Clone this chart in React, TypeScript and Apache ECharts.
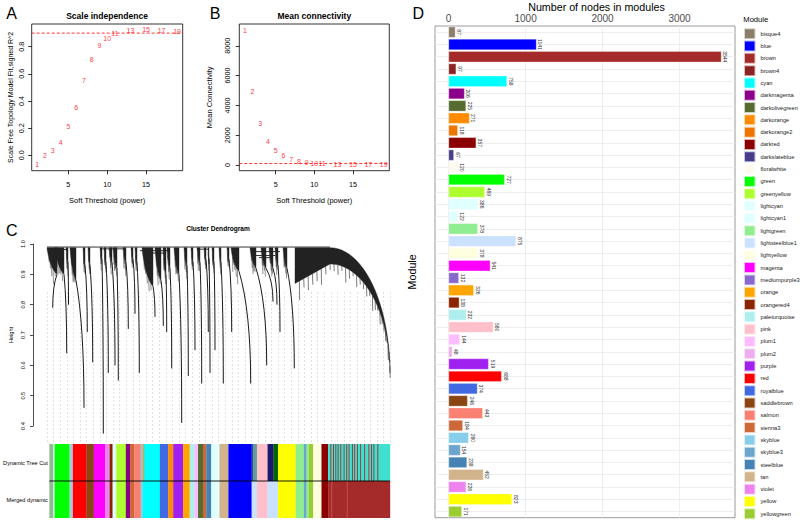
import React, { useEffect, useRef } from 'react';
import * as echarts from 'echarts';

const FONT = '"Liberation Sans", Arial, Helvetica, sans-serif';

// ---------- Panel A / B : soft threshold analysis ----------
const powers = [1, 2, 3, 4, 5, 6, 7, 8, 9, 10, 11, 13, 15, 17, 19];
const signedR2 = [-0.069, -0.003, 0.034, 0.098, 0.216, 0.354, 0.55, 0.705, 0.81, 0.859, 0.894, 0.918, 0.923, 0.92, 0.913];
const meanConnectivity = [9010, 4900, 2770, 1610, 1000, 620, 400, 270, 155, 130, 110, 67, 45, 40, 35];
const r2Cutoff = 0.9;
const connectivityCutoff = 100;
const powerTicks = [5, 10, 15];
const r2Ticks = [0, 0.2, 0.4, 0.6, 0.8];
const connectivityTicks = [0, 2000, 4000, 6000, 8000];

// ---------- Panel C : dendrogram (leaf order position, height) ----------
const treeRootHeight = 0.988;
// [left leaf, right leaf, height]
const dendroMerges = [
  [0, 283, 0.99],
  [0, 20, 0.982],
  [53, 78, 0.984],
  [93, 123, 0.978],
  [100, 118, 0.97],
  [150, 162, 0.983],
  [206, 233, 0.975],
  [208, 228, 0.962],
  [212, 224, 0.955],
];
// [body left, body right, body bottom height, tip leaf, tip height]
const dendroWhips = [
  [0, 10, 0.9, 5.7, 0.79],
  [8, 17, 0.9, 19.7, 0.64],
  [19, 21, 0.94, 21.5, 0.8],
  [23, 29, 0.88, 37, 0.46],
  [36, 38, 0.93, 40.3, 0.71],
  [41, 43, 0.93, 45.7, 0.61],
  [53, 55, 0.95, 56.3, 0.375],
  [57, 59, 0.94, 61.3, 0.575],
  [62, 65, 0.94, 68, 0.6],
  [66, 70, 0.92, 71.3, 0.55],
  [76, 79, 0.94, 81.3, 0.72],
  [84, 86, 0.95, 88, 0.77],
  [88, 90, 0.94, 92.3, 0.575],
  [95, 106, 0.86, 108, 0.76],
  [108, 114, 0.88, 116.3, 0.73],
  [116, 119, 0.9, 119.7, 0.71],
  [120, 123, 0.92, 124.7, 0.59],
  [127, 132, 0.9, 134.7, 0.41],
  [137, 140, 0.93, 141.3, 0.565],
  [144, 146, 0.94, 148, 0.65],
  [150, 153, 0.94, 154.7, 0.54],
  [157, 159, 0.95, 161.3, 0.71],
  [161, 162, 0.95, 163, 0.575],
  [165, 167, 0.94, 168, 0.65],
  [172, 174, 0.94, 176.3, 0.54],
  [180, 182, 0.95, 184.7, 0.71],
  [184, 192, 0.91, 203.7, 0.54],
  [203, 209, 0.92, 219.7, 0.6],
  [214, 219, 0.92, 226, 0.81],
  [222, 226, 0.92, 230, 0.8],
  [228, 231, 0.93, 233, 0.71],
  [236, 240, 0.92, 247.3, 0.59],
];
// [left leaf, shoulder leaf, inner height, tip leaf, tip height]
const dendroFans = [[248, 283, 0.87, 343, 0.575]];

const colorRowLabels = ['Dynamic Tree Cut', 'Merged dynamic'];
// [start leaf, end leaf, module colour]
const turquoiseBrownStripes = [283, 285.7, 288, 290.3, 293, 296.3, 299, 301.3, 304.7, 307, 309.7, 313, 317, 321.3, 324, 326.3, 330.3];
const dynamicTreeCut: [number, number, string][] = [
  [0, 4, 'darkseagreen'], [4, 5.3, 'lightcyan1'], [5.3, 20.3, 'green'], [20.3, 23.7, 'lightsteelblue'],
  [23.7, 37.3, 'red'], [37.3, 44.7, 'saddlebrown'], [44.7, 56.3, 'magenta'], [56.3, 60.7, 'violet'],
  [60.7, 63.7, 'orangered4'], [63.7, 67.3, 'lightcyan'], [67.3, 77, 'greenyellow'], [77, 81.3, 'darkmagenta'],
  [81.3, 85.3, 'sienna3'], [85.3, 92, 'salmon'], [92, 94, 'skyblue'], [94, 95, 'darkorange'],
  [95, 96.3, 'turquoise'], [96.3, 111.3, 'cyan'], [111.3, 119.7, 'royalblue'], [119.7, 124.7, 'darkorange'],
  [124.7, 134.7, 'purple'], [134.7, 141.3, 'orange'], [141.3, 146.3, 'paleturquoise'], [146.3, 149.7, 'plum1'],
  [149.7, 154.7, 'darkolivegreen'], [154.7, 158, 'sienna3'], [158, 163, 'steelblue'], [163, 171.3, 'lightcyan'],
  [171.3, 180.3, 'tan'], [180.3, 203.7, 'blue'], [203.7, 205, 'darkslateblue'], [205, 209, 'cadetblue'],
  [209, 219.7, 'pink'], [219.7, 225.7, 'midnightblue'], [225.7, 230.3, 'darkgreen'], [230.3, 248, 'yellow'],
  [248, 256.3, 'lightgreen'], [256.3, 259, 'skyblue3'], [259, 261.3, 'lightgreen'], [261.3, 265.7, 'yellowgreen'],
  [265.7, 274, 'lightyellow'], [274, 280.7, 'darkred'], [280.7, 343, 'turquoise'],
  ...turquoiseBrownStripes.map((u) => [u, u + 0.7, 'brown'] as [number, number, string]),
];
const mergedDynamic: [number, number, string][] = [
  [0, 4, 'darkseagreen'], [4, 5.3, 'lightcyan1'], [5.3, 20.3, 'green'], [20.3, 23.7, 'lightsteelblue'],
  [23.7, 37.3, 'red'], [37.3, 44.7, 'saddlebrown'], [44.7, 56.3, 'magenta'], [56.3, 60.7, 'violet'],
  [60.7, 63.7, 'orangered4'], [63.7, 67.3, 'lightcyan'], [67.3, 77, 'greenyellow'], [77, 81.3, 'darkmagenta'],
  [81.3, 85.3, 'sienna3'], [85.3, 92, 'salmon'], [92, 94, 'skyblue'], [94, 111.3, 'cyan'],
  [111.3, 119.7, 'royalblue'], [119.7, 124.7, 'darkorange'], [124.7, 134.7, 'purple'], [134.7, 141.3, 'orange'],
  [141.3, 146.3, 'paleturquoise'], [146.3, 149.7, 'plum1'], [149.7, 154.7, 'darkolivegreen'], [154.7, 158, 'sienna3'],
  [158, 163, 'steelblue'], [163, 171.3, 'lightcyan'], [171.3, 180.3, 'tan'], [180.3, 203.7, 'blue'],
  [203.7, 209, 'lightsteelblue1'], [209, 219.7, 'pink'], [219.7, 230.3, 'lightsteelblue1'], [230.3, 248, 'yellow'],
  [248, 256.3, 'lightgreen'], [256.3, 259, 'skyblue3'], [259, 261.3, 'lightgreen'], [261.3, 265.7, 'yellowgreen'],
  [265.7, 274, 'lightyellow'], [274, 280.7, 'darkred'], [280.7, 343, 'brown'],
  [284, 284.6, 'indianred'], [299.5, 300.1, 'indianred'],
];

// ---------- Panel D : module sizes ----------
const moduleNames = ['bisque4', 'blue', 'brown', 'brown4', 'cyan', 'darkmagenta', 'darkolivegreen', 'darkorange', 'darkorange2', 'darkred',
  'darkslateblue', 'floralwhite', 'green', 'greenyellow', 'lightcyan', 'lightcyan1', 'lightgreen', 'lightsteelblue1', 'lightyellow', 'magenta',
  'mediumpurple3', 'orange', 'orangered4', 'paleturquoise', 'pink', 'plum1', 'plum2', 'purple', 'red', 'royalblue',
  'saddlebrown', 'salmon', 'sienna3', 'skyblue', 'skyblue3', 'steelblue', 'tan', 'violet', 'yellow', 'yellowgreen'];
const moduleSizes = [87, 1141, 3544, 97, 758, 206, 225, 271, 118, 357,
  67, 120, 727, 469, 386, 122, 378, 875, 378, 541,
  132, 326, 138, 232, 580, 144, 48, 519, 688, 374,
  246, 443, 184, 260, 154, 238, 452, 226, 823, 171];
const moduleTicks = [0, 1000, 2000, 3000];

const rColors: Record<string, string> = {
  bisque4: '#8B7D6B', blue: '#0000FF', brown: '#A52A2A', brown4: '#8B2323', cyan: '#00FFFF', darkmagenta: '#8B008B',
  darkolivegreen: '#556B2F', darkorange: '#FF8C00', darkorange2: '#EE7600', darkred: '#8B0000', darkslateblue: '#483D8B',
  floralwhite: '#FFFAF0', green: '#00FF00', greenyellow: '#ADFF2F', lightcyan: '#E0FFFF', lightcyan1: '#E0FFFF',
  lightgreen: '#90EE90', lightsteelblue1: '#CAE1FF', lightyellow: '#FFFFE0', magenta: '#FF00FF', mediumpurple3: '#8968CD',
  orange: '#FFA500', orangered4: '#8B2500', paleturquoise: '#AFEEEE', pink: '#FFC0CB', plum1: '#FFBBFF', plum2: '#EEAEEE',
  purple: '#A020F0', red: '#FF0000', royalblue: '#4169E1', saddlebrown: '#8B4513', salmon: '#FA8072', sienna3: '#CD6839',
  skyblue: '#87CEEB', skyblue3: '#6CA6CD', steelblue: '#4682B4', tan: '#D2B48C', violet: '#EE82EE', yellow: '#FFFF00',
  yellowgreen: '#9ACD32', darkseagreen: '#8FBC8F', lightsteelblue: '#B0C4DE', turquoise: '#40E0D0', midnightblue: '#191970',
  darkgreen: '#006400', cadetblue: '#5F9EA0', indianred: '#CD5C5C',
};

const HAIR_LENGTHS = [6, 12, 4, 9, 15, 5, 10, 7];

function quadPts(p0: number[], c: number[], p1: number[], n: number): number[][] {
  const pts: number[][] = [];
  for (let i = 0; i <= n; i++) {
    const t = i / n;
    const u = 1 - t;
    pts.push([u * u * p0[0] + 2 * u * t * c[0] + t * t * p1[0], u * u * p0[1] + 2 * u * t * c[1] + t * t * p1[1]]);
  }
  return pts;
}

const colorSegments = [
  ...dynamicTreeCut.map((s) => ({ seg: s, row: 0 })),
  ...mergedDynamic.map((s) => ({ seg: s, row: 1 })),
];

function buildOption(): any {
  const tickStyle = { color: '#000', width: 0.8 };
  const txt = (text: string, x: number, y: number, font: string, align = 'center') => ({
    type: 'text', x, y, silent: true,
    style: { text, fill: '#000', font, align, verticalAlign: 'middle' },
  });

  const scatterSeries = (xi: number, values: number[]) => ({
    type: 'scatter', xAxisIndex: xi, yAxisIndex: xi, silent: true, z: 3,
    symbolSize: 1, itemStyle: { color: 'rgba(0,0,0,0)' },
    data: powers.map((p, i) => [p, values[i]]),
    label: {
      show: true, position: 'inside', color: '#FF0000', fontSize: 7, fontFamily: FONT,
      formatter: (p: any) => String(powers[p.dataIndex]),
    },
    labelLayout: { hideOverlap: false },
  });

  // horizontal red dashed cut-off line across the whole plot region
  const cutoffSeries = (xi: number, cutoff: number) => ({
    type: 'custom', xAxisIndex: xi, yAxisIndex: xi, silent: true, z: 2,
    encode: { y: 0 },
    data: [[cutoff]],
    renderItem: (params: any, api: any) => {
      const y = api.coord([powers[0], api.value(0)])[1];
      const cs = params.coordSys;
      return {
        type: 'line',
        shape: { x1: cs.x, y1: y, x2: cs.x + cs.width, y2: y },
        style: { stroke: '#FF0000', lineWidth: 0.8, lineDash: [3, 2], fill: 'none' },
      };
    },
  });

  const barSeries = moduleNames.map((name, k) => ({
    type: 'bar', name, xAxisIndex: 5, yAxisIndex: 5, stack: 'modules', barWidth: '88%', silent: true,
    itemStyle: { color: rColors[name], borderColor: 'rgba(255,255,255,0.7)', borderWidth: 0.4 },
    label: {
      show: true, position: 'right', rotate: -90, align: 'center', verticalAlign: 'bottom', distance: 1.5,
      fontSize: 5, color: '#333', fontFamily: FONT, formatter: '{c}',
    },
    data: moduleNames.map((_, i) => (i === k ? moduleSizes[k] : '-')),
  }));

  return {
    animation: false,
    backgroundColor: '#fff',
    textStyle: { fontFamily: FONT },
    grid: [
      { left: 31.7, top: 24, width: 151, height: 146.7, show: true, borderColor: '#000', borderWidth: 0.8, backgroundColor: 'transparent' },
      { left: 239.3, top: 24, width: 150, height: 146.7, show: true, borderColor: '#000', borderWidth: 0.8, backgroundColor: 'transparent' },
      { left: 33, top: 244, width: 371, height: 182 },
      { left: 47, top: 292, width: 343, height: 152 },
      { left: 47, top: 444, width: 343, height: 74 },
      { left: 435, top: 26, width: 300, height: 491.7, show: true, borderColor: '#9a9a9a', borderWidth: 1, backgroundColor: 'transparent' },
    ],
    xAxis: [0, 1].map((g) => ({
      gridIndex: g, type: 'value', min: 0.28, max: 19.72,
      name: 'Soft Threshold (power)', nameLocation: 'middle', nameGap: 26,
      nameTextStyle: { fontSize: 7.5, color: '#000', fontFamily: FONT },
      axisLine: { show: false, onZero: false }, splitLine: { show: false },
      axisTick: { customValues: powerTicks, length: 3.5, lineStyle: tickStyle },
      axisLabel: { customValues: powerTicks, fontSize: 7.2, color: '#000', margin: 10 },
    })).concat([
      { gridIndex: 2, type: 'value', min: -14, max: 357, show: false, axisLine: { onZero: false } } as any,
      {
        gridIndex: 3, type: 'value', min: 0, max: 343, interval: 6.6,
        axisLine: { show: false, onZero: false }, axisTick: { show: false }, axisLabel: { show: false },
        splitLine: { show: true, lineStyle: { color: '#cfcfcf', type: [2, 2], width: 0.6 } },
      },
      { gridIndex: 4, type: 'value', min: 0, max: 343, show: false, axisLine: { onZero: false } },
      {
        gridIndex: 5, type: 'value', position: 'top', min: -177, max: 3721, splitNumber: 8,
        axisLine: { show: false, onZero: false },
        axisTick: { customValues: moduleTicks, length: 3, lineStyle: { color: '#333', width: 0.8 } },
        axisLabel: { customValues: moduleTicks, fontSize: 10, color: '#4d4d4d', margin: 3, formatter: (v: number) => String(v) },
        splitLine: { show: true, lineStyle: { color: '#ebebeb', width: 0.8 } },
      },
    ]),
    yAxis: [
      {
        gridIndex: 0, type: 'value', min: -0.113, max: 0.967,
        name: 'Scale Free Topology Model Fit,signed R^2', nameLocation: 'middle', nameGap: 17.5,
        nameTextStyle: { fontSize: 7, color: '#000', fontFamily: FONT },
        axisLine: { show: false, onZero: false }, splitLine: { show: false },
        axisTick: { customValues: r2Ticks, length: 3.5, lineStyle: tickStyle },
        axisLabel: { customValues: r2Ticks, rotate: 90, fontSize: 7.2, color: '#000', margin: 6.5, formatter: (v: number) => v.toFixed(1) },
      },
      {
        gridIndex: 1, type: 'value', min: -380, max: 9460,
        name: 'Mean Connectivity', nameLocation: 'middle', nameGap: 26,
        nameTextStyle: { fontSize: 7.5, color: '#000', fontFamily: FONT },
        axisLine: { show: false, onZero: false }, splitLine: { show: false },
        axisTick: { customValues: connectivityTicks, length: 3.5, lineStyle: tickStyle },
        axisLabel: { customValues: connectivityTicks, rotate: 90, fontSize: 7.2, color: '#000', margin: 8, formatter: (v: number) => String(v) },
      },
      {
        gridIndex: 2, type: 'value', min: 0.4, max: 1.0, interval: 0.1,
        name: 'Height', nameLocation: 'middle', nameGap: 19,
        nameTextStyle: { fontSize: 5.6, color: '#000', fontFamily: FONT },
        axisLine: { show: true, onZero: false, lineStyle: { color: '#000', width: 0.7 } },
        axisTick: { show: true, length: 3, lineStyle: { color: '#000', width: 0.7 } },
        axisLabel: { rotate: 90, fontSize: 5.6, color: '#000', margin: 7, formatter: (v: number) => v.toFixed(1) },
        splitLine: { show: false },
      },
      { gridIndex: 3, type: 'value', min: 0, max: 1, show: false, axisLine: { onZero: false } },
      {
        gridIndex: 4, type: 'category', data: colorRowLabels, inverse: true,
        axisLine: { show: false, onZero: false }, axisTick: { show: false }, splitLine: { show: false },
        axisLabel: { fontSize: 5.6, color: '#000', margin: 1.5, interval: 0 },
      },
      {
        gridIndex: 5, type: 'category', data: moduleNames, inverse: true,
        name: 'Module', nameLocation: 'middle', nameGap: 18,
        nameTextStyle: { fontSize: 10.7, color: '#000', fontFamily: FONT },
        axisLine: { show: false, onZero: false },
        axisTick: { alignWithLabel: true, interval: 0, length: 3, lineStyle: { color: '#333', width: 0.8 } },
        axisLabel: { show: false, interval: 0 },
        splitLine: { show: true, alignWithLabel: true, interval: 0, lineStyle: { color: '#ebebeb', width: 0.8 } },
      },
    ],
    legend: {
      data: moduleNames, orient: 'vertical', left: 743, top: 27.2, height: 600, padding: 0,
      itemWidth: 11.5, itemHeight: 11, itemGap: -0.69, icon: 'rect', selectedMode: false,
      textStyle: { fontSize: 5.7, color: '#222', fontFamily: FONT, lineHeight: 11 },
    },
    graphic: [
      txt('A', 11.7, 13.5, `16px ${FONT}`),
      txt('B', 215, 13.5, `16px ${FONT}`),
      txt('C', 11.7, 230, `16px ${FONT}`),
      txt('D', 418.3, 13.5, `16px ${FONT}`),
      txt('Scale independence', 107, 16, `bold 8.5px ${FONT}`),
      txt('Mean connectivity', 314.3, 16, `bold 8.5px ${FONT}`),
      txt('Cluster Dendrogram', 218, 228, `bold 6.6px ${FONT}`),
      txt('Number of nodes in modules', 596.5, 6.5, `10.7px ${FONT}`),
      txt('Module', 743.3, 19, `7.6px ${FONT}`, 'left'),
    ],
    series: [
      cutoffSeries(0, r2Cutoff),
      cutoffSeries(1, connectivityCutoff),
      scatterSeries(0, signedR2),
      scatterSeries(1, meanConnectivity),
      {
        type: 'custom', xAxisIndex: 2, yAxisIndex: 2, silent: true, clip: false,
        encode: { x: [0, 1], y: 2 },
        data: dendroMerges,
        renderItem: (params: any, api: any) => {
          const m = dendroMerges[params.dataIndex];
          const a = api.coord([m[0], m[2]]);
          const b = api.coord([m[1], m[2]]);
          return { type: 'line', shape: { x1: a[0], y1: a[1], x2: b[0], y2: b[1] }, style: { stroke: '#000', lineWidth: 0.8, fill: 'none' } };
        },
      },
      {
        type: 'custom', xAxisIndex: 2, yAxisIndex: 2, silent: true, clip: false,
        encode: { x: [0, 1, 3], y: [2, 4] },
        data: dendroWhips,
        renderItem: (params: any, api: any) => {
          const [x0, x1, hb, xt, ht] = dendroWhips[params.dataIndex];
          const tl = api.coord([x0, treeRootHeight]);
          const tr = api.coord([x1, treeRootHeight]);
          const b = api.coord([x1, hb]);
          const c = api.coord([x0, hb]);
          const ctrl = [(c[0] + (tl[0] + b[0]) / 2) / 2, (c[1] + (tl[1] + b[1]) / 2) / 2];
          const tip = api.coord([xt, ht]);
          const mid = api.coord([xt, hb - (hb - ht) * 0.35]);
          const curve = quadPts(b, ctrl, tl, 14);
          const children: any[] = [
            { type: 'polygon', shape: { points: [tl, tr, ...curve] }, style: { fill: '#222', stroke: '#222', lineWidth: 0.4 } },
            { type: 'bezierCurve', shape: { x1: b[0], y1: b[1], x2: tip[0], y2: tip[1], cpx1: mid[0], cpy1: mid[1] }, style: { stroke: '#000', lineWidth: 0.9, fill: 'none' } },
          ];
          for (let i = 2; i < 12; i += 2) {
            const p = curve[i];
            const len = HAIR_LENGTHS[(params.dataIndex + i) % HAIR_LENGTHS.length];
            children.push({ type: 'line', shape: { x1: p[0], y1: p[1], x2: p[0] + 0.4, y2: p[1] + len }, style: { stroke: '#222', lineWidth: 0.5, fill: 'none' } });
          }
          return { type: 'group', children };
        },
      },
      {
        type: 'custom', xAxisIndex: 2, yAxisIndex: 2, silent: true, clip: false,
        encode: { x: [0, 1, 3], y: [2, 4] },
        data: dendroFans,
        renderItem: (params: any, api: any) => {
          const [x0, xe, hi, xt, ht] = dendroFans[params.dataIndex];
          const rx = xt - xe;
          const ry = treeRootHeight - ht;
          const n = 24;
          const outer: number[][] = [api.coord([x0, treeRootHeight])];
          for (let i = 0; i <= n; i++) {
            const th = (i / n) * Math.PI / 2;
            outer.push(api.coord([xe + rx * Math.sin(th), ht + ry * Math.cos(th)]));
          }
          const inner: number[][] = [];
          for (let i = n; i >= 0; i--) {
            const th = (i / n) * Math.PI / 2;
            inner.push(api.coord([xe + rx * Math.sin(th), ht + ry * 0.87 * Math.cos(th)]));
          }
          inner.push(api.coord([x0, hi]));
          const children: any[] = [
            { type: 'polygon', shape: { points: [...outer, ...inner] }, style: { fill: '#222', stroke: '#222', lineWidth: 0.4 } },
          ];
          for (let i = 1; i < inner.length - 1; i++) {
            const p = inner[i];
            const len = HAIR_LENGTHS[i % HAIR_LENGTHS.length];
            children.push({ type: 'line', shape: { x1: p[0], y1: p[1], x2: p[0] + 0.3, y2: p[1] + len }, style: { stroke: '#222', lineWidth: 0.6, fill: 'none' } });
          }
          const a = api.coord([x0, hi]);
          const b = inner[inner.length - 2];
          for (let k = 1; k < 8; k++) {
            const x = a[0] + ((b[0] - a[0]) * k) / 8;
            const y = a[1] + ((b[1] - a[1]) * k) / 8;
            const len = HAIR_LENGTHS[(k + 3) % HAIR_LENGTHS.length] + 4;
            children.push({ type: 'line', shape: { x1: x, y1: y, x2: x + 0.3, y2: y + len }, style: { stroke: '#222', lineWidth: 0.6, fill: 'none' } });
          }
          return { type: 'group', children };
        },
      },
      {
        type: 'custom', xAxisIndex: 4, yAxisIndex: 4, silent: true, clip: false,
        encode: { x: [0, 1], y: 2 },
        data: colorSegments.map((d) => [d.seg[0], d.seg[1], d.row]),
        renderItem: (params: any, api: any) => {
          const d = colorSegments[params.dataIndex];
          const p0 = api.coord([d.seg[0], d.row]);
          const p1 = api.coord([d.seg[1], d.row]);
          const h = api.size([0, 1])[1];
          return {
            type: 'rect',
            shape: { x: p0[0], y: p0[1] - h / 2, width: Math.max(p1[0] - p0[0], 0.5) + 0.2, height: h },
            style: { fill: rColors[d.seg[2]] },
          };
        },
      },
      {
        type: 'custom', xAxisIndex: 4, yAxisIndex: 4, silent: true, clip: false, z: 5,
        encode: { x: [0, 1], y: 2 },
        data: [[0, 343, 0]],
        renderItem: (params: any, api: any) => {
          const a = api.coord([0, 0]);
          const b = api.coord([343, 0]);
          const h = api.size([0, 1])[1];
          return { type: 'line', shape: { x1: a[0], y1: a[1] + h / 2, x2: b[0], y2: b[1] + h / 2 }, style: { stroke: '#000', lineWidth: 0.9, fill: 'none' } };
        },
      },
      ...barSeries,
    ],
  };
}

export default function App() {
  const ref = useRef<HTMLDivElement>(null);
  useEffect(() => {
    if (!ref.current) return;
    const chart = echarts.init(ref.current, undefined, { renderer: 'svg' });
    chart.setOption(buildOption());
    return () => chart.dispose();
  }, []);
  return <div ref={ref} style={{ position: 'absolute', left: 0, top: 0, width: 800, height: 520, background: '#fff' }} />;
}
